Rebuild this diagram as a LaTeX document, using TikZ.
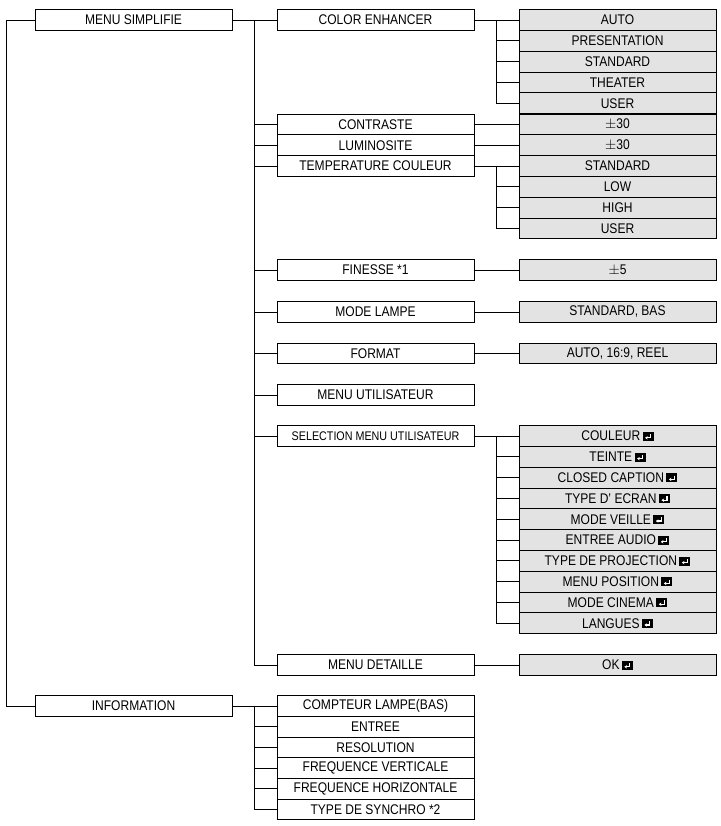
\documentclass[tikz,border=0pt]{standalone}
\usepackage{fontspec}
\setmainfont{Liberation Sans}[FakeStretch=0.86]
\usetikzlibrary{arrows.meta}
\newcommand\entk{\,\tikz[baseline=0pt]{\fill[black](0pt,0pt) rectangle (11pt,9pt); \draw[white,line width=1.1pt,-{Stealth[length=2.6pt,width=3.4pt]}] (8pt,6.8pt) -- (8pt,3pt) -- (2.5pt,3pt);}}
\begin{document}
\begin{tikzpicture}[x=1pt,y=-1pt,
  box/.style={draw,line width=0.9pt,minimum width=197pt,minimum height=20.8pt,inner sep=0pt,font=\fontsize{14}{14}\selectfont},
  gbox/.style={box,fill=black!11},
  ln/.style={line width=0.9pt}]
\useasboundingbox (0,0) rectangle (720,826);
% column 1
\node[box] (ms) at (133.5,20) {MENU SIMPLIFIE};
\node[box] (info) at (133.5,706) {INFORMATION};
% column 2
\node[box] (ce) at (375.5,20) {COLOR ENHANCER};
\node[box] (co) at (375.5,124.5) {CONTRASTE};
\node[box] (lu) at (375.5,145.3) {LUMINOSITE};
\node[box] (tc) at (375.5,166.1) {TEMPERATURE COULEUR};
\node[box] (fi) at (375.5,270) {FINESSE *1};
\node[box] (ml) at (375.5,312) {MODE LAMPE};
\node[box] (fo) at (375.5,353.5) {FORMAT};
\node[box] (mu) at (375.5,395) {MENU UTILISATEUR};
\node[box,font=\fontsize{12.5}{12.5}\selectfont] (sm) at (375.5,436) {SELECTION MENU UTILISATEUR};
\node[box] (md) at (375.5,665) {MENU DETAILLE};
\foreach \t [count=\i] in {COMPTEUR LAMPE(BAS),ENTREE,RESOLUTION,FREQUENCE VERTICALE,FREQUENCE HORIZONTALE,TYPE DE SYNCHRO *2}
  \node[box] (in\i) at (375.5,706+20.7*\i-20.7) {\t};
% column 3
\foreach \t [count=\i] in {AUTO,PRESENTATION,STANDARD,THEATER,USER}
  \node[gbox] (ce\i) at (617.5,20+20.8*\i-20.8) {\t};
\node[gbox] (co1) at (617.5,124.5) {$\pm$30};
\node[gbox] (lu1) at (617.5,145.3) {$\pm$30};
\foreach \t [count=\i] in {STANDARD,LOW,HIGH,USER}
  \node[gbox] (tc\i) at (617.5,166.1+20.8*\i-20.8) {\t};
\node[gbox] (fi1) at (617.5,270) {$\pm$5};
\node[gbox] (ml1) at (617.5,312) {STANDARD, BAS};
\node[gbox] (fo1) at (617.5,353.5) {AUTO, 16:9, REEL};
\foreach \t [count=\i] in {COULEUR,TEINTE,CLOSED CAPTION,TYPE D' ECRAN,MODE VEILLE,ENTREE AUDIO,TYPE DE PROJECTION,MENU POSITION,MODE CINEMA,LANGUES}
  \node[gbox] (sm\i) at (617.5,436+20.8*\i-20.8) {\t\entk};
\node[gbox] (md1) at (617.5,665) {OK\entk};
% connectors
\draw[ln] (ms.west) -- ++(-28,0) |- (info.west);
\draw[ln] (ms.east) -- (ce.west);
\draw[ln] ([xshift=-22pt]ce.west) |- (md.west);
\foreach \n in {co,lu,tc,fi,ml,fo,mu,sm} \draw[ln] (\n.west) -- ++(-22,0);
\draw[ln] (info.east) -- (in1.west);
\draw[ln] ([xshift=-22pt]in1.west) |- (in6.west);
\foreach \i in {2,...,5} \draw[ln] (in\i.west) -- ++(-22,0);
\draw[ln] (ce.east) -- (ce1.west);
\draw[ln] ([xshift=-22pt]ce1.west) |- (ce5.west);
\foreach \i in {2,3,4} \draw[ln] (ce\i.west) -- ++(-22,0);
\draw[ln] (co.east) -- (co1.west);
\draw[ln] (lu.east) -- (lu1.west);
\draw[ln] (tc.east) -- (tc1.west);
\draw[ln] ([xshift=-22pt]tc1.west) |- (tc4.west);
\foreach \i in {2,3} \draw[ln] (tc\i.west) -- ++(-22,0);
\draw[ln] (fi.east) -- (fi1.west);
\draw[ln] (ml.east) -- (ml1.west);
\draw[ln] (fo.east) -- (fo1.west);
\draw[ln] (sm.east) -- (sm1.west);
\draw[ln] ([xshift=-22pt]sm1.west) |- (sm10.west);
\foreach \i in {2,...,9} \draw[ln] (sm\i.west) -- ++(-22,0);
\draw[ln] (md.east) -- (md1.west);
\end{tikzpicture}
\end{document}
